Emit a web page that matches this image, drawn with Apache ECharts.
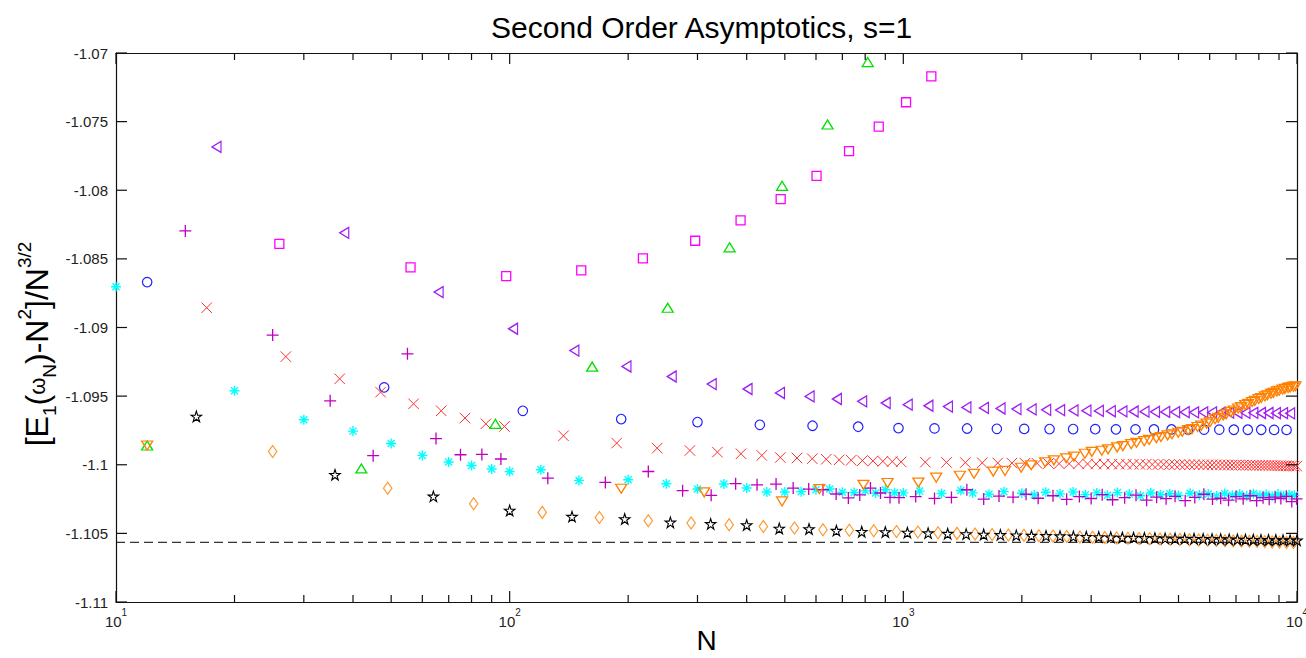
<!DOCTYPE html>
<html><head><meta charset="utf-8">
<script src="https://cdn.jsdelivr.net/npm/echarts@6/dist/echarts.min.js"></script>
<style>html,body{margin:0;padding:0;background:#fff}#c{width:1306px;height:658px}</style>
</head><body><div id="c"></div>
<script>
// ---- axis / tick data ----
const xMin = 10, xMax = 10000;
const yMin = -1.11, yMax = -1.07, yStep = 0.005;
const majorTicksX = [10,100,1000,10000];
const minorTicks = [20,30,40,50,60,70,80,90,200,300,400,500,600,700,800,900,2000,3000,4000,5000,6000,7000,8000,9000];
const ticksY = [-1.11,-1.105,-1.1,-1.095,-1.09,-1.085,-1.08,-1.075,-1.07];
const refLevel = -1.10565;

// ---- series: cyan asterisks ----
const cyanN = [10,20,30,40,50,60,70,80,90,100,120,150,200,250,300,350,400,450,500,550,600,650,700,750,800,850,900,950,1000,
  1100,1250,1400,1500,1650,1800,2000,2150,2300,2500,2700,2900,3100,3300,3500,3750,4000,4250,4500,4750,5000,5350,5650,5950,6250,6550,6850,7150,7450,7750,8050,8350,8650,8950,9250,9550,9850];
const cyanV = [-1.08703,-1.09461,-1.09672,-1.09755,-1.09845,-1.09932,-1.0998,-1.10005,-1.10031,-1.10049,-1.10036,-1.10114,-1.10109,-1.10138,-1.10177,-1.1014,-1.10169,-1.10198,-1.10198,-1.10196,-1.10182,-1.10177,-1.102,-1.10202,-1.1019,-1.10206,-1.10182,-1.10204,-1.10205,
  -1.10192,-1.1021,-1.10188,-1.10205,-1.10215,-1.10196,-1.10208,-1.1022,-1.102,-1.10212,-1.10198,-1.10218,-1.10205,-1.10222,-1.10203,-1.10214,-1.10226,-1.10206,-1.10219,-1.10211,-1.10224,-1.10208,-1.10221,-1.10213,-1.10227,-1.10209,-1.10222,-1.10215,-1.10228,-1.10212,-1.10224,-1.10217,-1.10229,-1.10214,-1.10226,-1.10219,-1.10223];

// ---- blue circles ----
const blueN = [12,48,108,192,300,432,588,768,972,1200,1452,1728,2028,2352,2700,3072,3468,3888,4332,4800,5292,5808,6348,6912,7500,8112,8748,9408];
const blueV = [-1.08669,-1.09436,-1.09607,-1.09667,-1.09689,-1.09709,-1.09716,-1.09723,-1.09733,-1.09735,-1.09736,-1.09738,-1.09739,-1.0974,-1.0974,-1.09741,-1.09742,-1.09742,-1.09743,-1.09743,-1.09744,-1.09744,-1.09744,-1.09745,-1.09745,-1.09745,-1.09746,-1.09746];

// ---- red crosses ----
const redN = [17,27,37,47,57,67,77,87,97,137,187,237,287,337,387,437,487,537,587,637,687,737,787,837,887,937,987,
  1137,1287,1437,1587,1737,1887,2037,2187,2337,2487,2637,2787,2937,3087,3237,3387,3537,3687,3837,3987,4137,4287,4437,4587,4737,4887,5037,5187,5337,5487,5637,5787,5937,6087,6237,6387,6537,6687,6837,6987,7137,7287,7437,7587,7737,7887,8037,8187,8337,8487,8637,8787,8937,9087,9237,9387,9537,9687,9837,9987];
const redV = [-1.08856,-1.09212,-1.09374,-1.09471,-1.09556,-1.09607,-1.0966,-1.09702,-1.09721,-1.09789,-1.09842,-1.09879,-1.09896,-1.09908,-1.0992,-1.09932,-1.09947,-1.09951,-1.09956,-1.0996,-1.09964,-1.09967,-1.0997,-1.09972,-1.09975,-1.09977,-1.09979,
  -1.09981,-1.09983,-1.09984,-1.09986,-1.09987,-1.09988,-1.09989,-1.0999,-1.09991,-1.09992,-1.09992,-1.09993,-1.09994,-1.09994,-1.09995,-1.09995,-1.09996,-1.09996,-1.09997,-1.09997,
  -1.09997,-1.09998,-1.09998,-1.09998,-1.09999,-1.09999,-1.09999,-1.1,-1.1,-1.1,-1.1,-1.10001,-1.10001,-1.10001,-1.10001,-1.10001,-1.10002,-1.10002,-1.10002,-1.10002,
  -1.10002,-1.10003,-1.10003,-1.10003,-1.10004,-1.10004,-1.10004,-1.10005,-1.10005,-1.10005,-1.10006,-1.10006,-1.10007,-1.10007,-1.10008,-1.10008,-1.10009,-1.10009,-1.1001,-1.1001,-1.1001];

// ---- magenta plus ----
const plusN = [15,25,35,45,55,65,75,85,95,125,175,225,275,325,375,425,475,525,575,625,675,725,775,825,875,925,975,
  1075,1200,1325,1450,1600,1750,1900,2050,2200,2400,2600,2800,3000,3200,3400,3650,3900,4150,4400,4650,4900,5200,5500,5800,6100,6400,6700,7000,7300,7600,7900,8200,8500,8800,9100,9400,9700,9975];
const plusV = [-1.08296,-1.09055,-1.09534,-1.09934,-1.09192,-1.09809,-1.09927,-1.09925,-1.09958,-1.10098,-1.10129,-1.10049,-1.10189,-1.10223,-1.10138,-1.10146,-1.10141,-1.1017,-1.10177,-1.10182,-1.10213,-1.10242,-1.1022,-1.1017,-1.10206,-1.10238,-1.1024,
  -1.10232,-1.10245,-1.10238,-1.10182,-1.1025,-1.10228,-1.10236,-1.10215,-1.10244,-1.10226,-1.10252,-1.10232,-1.10246,-1.10218,-1.10255,-1.1024,-1.10222,-1.10258,-1.10236,-1.10247,-1.1023,-1.10262,-1.10238,-1.10215,-1.1025,-1.10244,-1.10258,-1.10232,-1.10248,-1.10226,-1.10262,-1.1024,-1.10252,-1.10236,-1.10246,-1.1023,-1.10268,-1.10248];

// ---- magenta squares ----
const squareN = [26,56,98,152,218,296,386,488,602,728,866,1016,1178];
const squareV = [-1.0839,-1.08562,-1.08625,-1.08584,-1.08496,-1.08368,-1.0822,-1.08065,-1.07895,-1.07715,-1.07536,-1.07359,-1.0717];

// ---- purple left triangles ----
const leftN = [18,38,66,102,146,198,258,326,402,486,578,678,786,902,1026,1158,1298,1446,1602,1766,1938,2118,2306,2502,2706,2918,3138,3366,3602,3846,4098,4358,4626,4902,5186,5478,5778,6086,6402,6726,7058,7398,7746,8102,8466,8838,9218,9606];
const leftV = [-1.07684,-1.0831,-1.08742,-1.09009,-1.09168,-1.09284,-1.09357,-1.09412,-1.09448,-1.09477,-1.09502,-1.09521,-1.09538,-1.0955,
  -1.09562,-1.0957,-1.09576,-1.09582,-1.09586,-1.0959,-1.09594,-1.09597,-1.096,-1.09602,-1.09604,-1.09606,-1.09608,-1.0961,-1.09611,-1.09612,-1.09613,-1.09614,-1.09615,-1.09616,-1.09617,-1.09618,-1.09618,-1.09619,-1.0962,-1.0962,-1.09621,-1.09622,-1.09622,-1.09623,-1.09623,-1.09624,-1.09624,-1.09625];

// ---- green up triangles ----
const upN = [12,42,92,162,252,362,492,642,812];
const upV = [-1.0986,-1.10027,-1.09702,-1.09285,-1.08856,-1.08416,-1.07968,-1.07521,-1.07066];

// ---- orange down triangles ----
const downN = [12,192,312,492,612,792,912,1092,1212,1392,1512,1692,1812,1992,2112,2292,2412,2592,2712,2892,3012,3192,3312,3492,3612,3792,3912,4092,4212,4392,4512,4692,4812,4992,5112,5292,5412,5592,5712,5892,6012,6192,6312,6492,6612,6792,6912,7092,7212,7392,7512,7692,7812,7992,8112,8292,8412,8592,8712,8892,9012,9192,9312,9492,9612,9792,9912];
const downV = [-1.0986,-1.10175,-1.10201,-1.10267,-1.10177,-1.10146,-1.10133,-1.1013,-1.10094,-1.1008,-1.10066,-1.1005,-1.10045,-1.10022,-1.10004,-1.09982,-1.09968,-1.09953,-1.09941,-1.0992,-1.09906,-1.09898,-1.09888,-1.09873,-1.09864,-1.0985,-1.0984,-1.09828,-1.09819,-1.09806,-1.09798,-1.09786,-1.09778,-1.09767,-1.0976,-1.09748,-1.0974,-1.09725,-1.09715,-1.097,-1.0969,-1.09668,-1.09658,-1.09641,-1.09631,-1.09615,-1.09605,-1.0959,-1.0958,-1.09565,-1.09557,-1.09543,-1.09535,-1.09521,-1.09514,-1.09502,-1.09494,-1.09483,-1.09476,-1.09466,-1.09461,-1.09452,-1.09447,-1.0944,-1.09436,-1.09431,-1.09428];

// ---- orange diamonds ----
const diamN = [25,49,81,121,169,225,289,361,441,529,625,729,841,961,1089,1225,1369,1521,1681,1849,2025,2209,2401,2601,2809,3025,3249,3481,3721,3969,4225,4489,4761,5041,5329,5625,5929,6241,6561,6889,7225,7569,7921,8281,8649,9025,9409,9801];
const diamV = [-1.09903,-1.10172,-1.10284,-1.10347,-1.10384,-1.10408,-1.10425,-1.10437,-1.1045,-1.10461,-1.10474,-1.10477,-1.10481,-1.10486,
  -1.1049,-1.10496,-1.105,-1.10504,-1.10508,-1.10511,-1.10514,-1.10517,-1.1052,-1.10523,-1.10526,-1.10528,-1.1053,-1.10533,-1.10535,-1.10537,-1.10539,-1.10541,-1.10543,-1.10545,-1.10547,-1.10549,-1.1055,-1.10552,-1.10554,-1.10555,-1.10557,-1.10558,-1.1056,-1.10561,-1.10563,-1.10564,-1.10566,-1.10567];

// ---- black pentagrams ----
const starN = [16,36,64,100,144,196,256,324,400,484,576,676,784,900,1024,1156,1296,1444,1600,1764,1936,2116,2304,2500,2704,2916,3136,3364,3600,3844,4096,4356,4624,4900,5184,5476,5776,6084,6400,6724,7056,7396,7744,8100,8464,8836,9216,9604,10000];
const starV = [-1.09648,-1.10073,-1.1023,-1.10333,-1.10378,-1.10395,-1.1042,-1.10431,-1.10439,-1.10464,-1.10468,-1.1048,-1.10488,-1.1049,
  -1.10494,-1.10498,-1.10502,-1.10505,-1.10508,-1.10511,-1.10514,-1.10516,-1.10518,-1.1052,-1.10522,-1.10524,-1.10526,-1.10528,-1.1053,-1.10531,-1.10533,-1.10534,-1.10536,-1.10537,-1.10538,-1.10539,-1.1054,-1.10541,-1.10542,-1.10543,-1.10544,-1.10545,-1.10546,-1.10547,-1.10548,-1.10548,-1.10549,-1.1055,-1.1055];

// ---- marker shapes ----
const P_AST = 'path://M0,-10L0,10M-10,0L10,0M-7,-7L7,7M-7,7L7,-7';
const P_X = 'path://M-1,-1L1,1M-1,1L1,-1';
const P_PLUS = 'path://M0,-1L0,1M-1,0L1,0';
const P_LEFT = 'path://M1,-1L-1,0L1,1Z';
const P_DOWN = 'path://M-1,-1L1,-1L0,1Z';
const P_STAR = 'path://M0,-1L0.2245,-0.309L0.951,-0.309L0.3633,0.118L0.5878,0.809L0,0.382L-0.5878,0.809L-0.3633,0.118L-0.951,-0.309L-0.2245,-0.309Z';

const FONT = '"Liberation Sans", Arial, Helvetica, sans-serif';
const AX = '#111';
const MAJ = 11, MIN = 7;

function sc(name, N, V, symbol, size, color, width, z) {
  return {
    type: 'scatter', name, data: N.map((n, i) => [n, V[i]]),
    symbol, symbolSize: size, symbolKeepAspect: false,
    itemStyle: { color: 'rgba(0,0,0,0)', borderColor: color, borderWidth: width, opacity: 1 },
    silent: true, z: z, animation: false
  };
}

// tick marks on all four sides, placed through the axes' own scales (api.coord)
function tickSeries(vals, kind) {
  const data = kind === 'y' ? vals.map(v => [xMin, v]) : vals.map(v => [v, yMin]);
  return { type: 'custom', silent: true, z: 6, clip: false, data: data, encode: { x: 0, y: 1 },
    renderItem: function (params, api) {
      const st = { stroke: AX, lineWidth: 1.2 };
      if (kind === 'y') {
        const v = api.value(1);
        const l = api.coord([xMin, v]), r = api.coord([xMax, v]);
        return { type: 'group', children: [
          { type: 'line', shape: { x1: l[0], y1: l[1], x2: l[0] + MAJ, y2: l[1] }, style: st },
          { type: 'line', shape: { x1: r[0], y1: r[1], x2: r[0] - MAJ, y2: r[1] }, style: st } ] };
      }
      const v = api.value(0);
      const len = kind === 'x' ? MAJ : MIN;
      const b = api.coord([v, yMin]), t = api.coord([v, yMax]);
      return { type: 'group', children: [
        { type: 'line', shape: { x1: b[0], y1: b[1], x2: b[0], y2: b[1] - len }, style: st },
        { type: 'line', shape: { x1: t[0], y1: t[1], x2: t[0], y2: t[1] + len }, style: st } ] };
    } };
}

const chart = echarts.init(document.getElementById('c'), null, { renderer: 'svg' });
const lineStyleAx = { color: AX, width: 1.2 };

chart.setOption({
  animation: false,
  backgroundColor: '#fff',
  grid: { left: 116, right: 9, top: 53, bottom: 56, containLabel: false, outerBoundsMode: 'none' },
  xAxis: [
    { type: 'log', logBase: 10, min: xMin, max: xMax, position: 'bottom', splitLine: { show: false },
      axisLine: { show: true, lineStyle: lineStyleAx }, axisTick: { show: false },
      axisLabel: { margin: 5, formatter: v => '{b|10}{s|' + Math.round(Math.log10(v)) + '}',
        rich: { b: { fontSize: 15, fontFamily: FONT, color: '#222', lineHeight: 22, verticalAlign: 'bottom' },
                s: { fontSize: 10, fontFamily: FONT, color: '#222', verticalAlign: 'top' } } } },
    { type: 'log', logBase: 10, min: xMin, max: xMax, position: 'top', splitLine: { show: false },
      axisLine: { show: true, lineStyle: lineStyleAx }, axisTick: { show: false }, axisLabel: { show: false } }
  ],
  yAxis: [
    { type: 'value', min: yMin, max: yMax, interval: yStep, position: 'left', splitLine: { show: false },
      axisLine: { show: true, lineStyle: lineStyleAx }, axisTick: { show: false },
      axisLabel: { margin: 8, fontSize: 15, fontFamily: FONT, color: '#222', formatter: v => String(parseFloat(v.toFixed(3))) } },
    { type: 'value', min: yMin, max: yMax, interval: yStep, position: 'right', splitLine: { show: false },
      axisLine: { show: true, lineStyle: lineStyleAx }, axisTick: { show: false }, axisLabel: { show: false } }
  ],
  graphic: [
    { type: 'text', x: 701.6, y: 27.5, silent: true,
      style: { text: 'Second Order Asymptotics, s=1', fontSize: 30, fontFamily: FONT, fill: '#000', align: 'center', verticalAlign: 'middle' } },
    { type: 'text', x: 706.5, y: 640, silent: true,
      style: { text: 'N', fontSize: 28, fontFamily: FONT, fill: '#000', align: 'center', verticalAlign: 'middle' } },
    { type: 'text', x: 37, y: 344, rotation: Math.PI / 2, silent: true,
      style: { text: '{m|[E}{sb|1}{m|(}{w|ω}{sb|N}{m|)-N}{sp|2}{m|]/N}{sp|3/2}', align: 'center', verticalAlign: 'middle',
        rich: {
          m: { fontSize: 32, fontFamily: FONT, fill: '#000', color: '#000', lineHeight: 44, verticalAlign: 'middle' },
          w: { fontSize: 22, fontFamily: FONT, fill: '#000', color: '#000', verticalAlign: 'middle' },
          sb: { fontSize: 19, fontFamily: FONT, fill: '#000', color: '#000', verticalAlign: 'bottom' },
          sp: { fontSize: 19, fontFamily: FONT, fill: '#000', color: '#000', verticalAlign: 'top' }
        } } }
  ],
  series: [
    { type: 'line', data: [[xMin, refLevel], [xMax, refLevel]], symbol: 'none', silent: true, z: 1,
      lineStyle: { color: '#000', width: 1, type: [9, 5] } },
    tickSeries(majorTicksX, 'x'),
    tickSeries(minorTicks, 'xm'),
    tickSeries(ticksY, 'y'),
    sc('asterisk', cyanN, cyanV, P_AST, 10, '#00ffff', 1.4, 2),
    sc('circle', blueN, blueV, 'circle', 9.5, '#2020ff', 1.2, 3),
    sc('cross', redN, redV, P_X, 10.5, '#ff3030', 1, 3),
    sc('plus', plusN, plusV, P_PLUS, 12, '#c000c0', 1.3, 4),
    sc('square', squareN, squareV, 'rect', 9, '#ff00ff', 1.3, 4),
    sc('left', leftN, leftV, P_LEFT, [9, 11], '#a020f0', 1.3, 4),
    sc('up', upN, upV, 'triangle', [11, 9], '#00e000', 1.3, 5),
    sc('down', downN, downV, P_DOWN, [11, 9], '#ff8000', 1.3, 5),
    sc('diamond', diamN, diamV, 'diamond', [8.5, 12], '#ff9933', 1.2, 4),
    sc('star', starN, starV, P_STAR, 10.5, '#000000', 1.1, 4)
  ]
});
</script>
</body></html>
